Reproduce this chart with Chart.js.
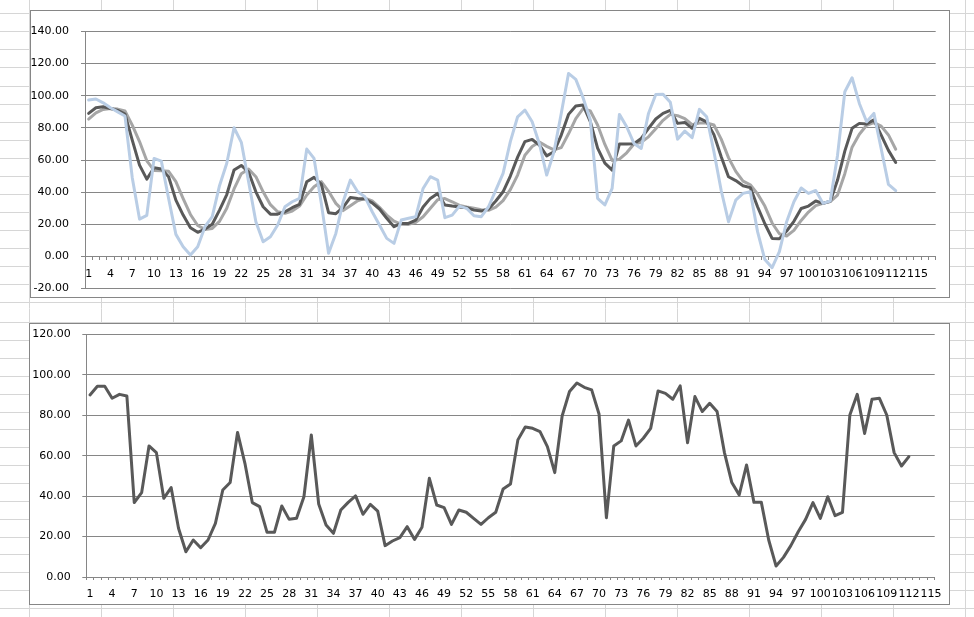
<!DOCTYPE html>
<html><head><meta charset="utf-8">
<script src="https://cdn.jsdelivr.net/npm/chart.js@4.4.0/dist/chart.umd.min.js"></script>
<style>
html,body{margin:0;padding:0;background:#fff;}
body{width:974px;height:617px;position:relative;overflow:hidden;}
#bg{position:absolute;left:0;top:0;}
.frame{position:absolute;box-sizing:border-box;border:1px solid #868686;background:#fff;}
#c1{position:absolute;left:30px;top:10px;}
#c2{position:absolute;left:29px;top:323px;}
</style></head><body>
<canvas id="bg" width="974" height="617"></canvas>
<div class="frame" style="left:30px;top:10px;width:920px;height:288px;"></div>
<div class="frame" style="left:29px;top:323px;width:921px;height:282px;"></div>
<canvas id="c1" width="920" height="288"></canvas>
<canvas id="c2" width="921" height="282"></canvas>
<script>
// ---- categories / tick labels ----
const topCategories = ['1','2','3','4','5','6','7','8','9','10','11','12','13','14','15','16','17','18','19','20','21','22','23','24','25','26','27','28','29','30','31','32','33','34','35','36','37','38','39','40','41','42','43','44','45','46','47','48','49','50','51','52','53','54','55','56','57','58','59','60','61','62','63','64','65','66','67','68','69','70','71','72','73','74','75','76','77','78','79','80','81','82','83','84','85','86','87','88','89','90','91','92','93','94','95','96','97','98','99','100','101','102','103','104','105','106','107','108','109','110','111','112','113','114','115','116','117'];
const bottomCategories = ['1','2','3','4','5','6','7','8','9','10','11','12','13','14','15','16','17','18','19','20','21','22','23','24','25','26','27','28','29','30','31','32','33','34','35','36','37','38','39','40','41','42','43','44','45','46','47','48','49','50','51','52','53','54','55','56','57','58','59','60','61','62','63','64','65','66','67','68','69','70','71','72','73','74','75','76','77','78','79','80','81','82','83','84','85','86','87','88','89','90','91','92','93','94','95','96','97','98','99','100','101','102','103','104','105','106','107','108','109','110','111','112','113','114','115'];
const topYTicks = [-20, 0, 20, 40, 60, 80, 100, 120, 140];
const bottomYTicks = [0, 20, 40, 60, 80, 100, 120];

// ---- series values ----
const darkSeries = [89,92.5,93.2,92.1,90.9,88.6,72.4,56.8,48.1,55.2,
 54.4,49.6,35,25.7,17.8,15,17,20,28.8,38.5,
 53.8,56.6,52.5,40.2,30.9,26.3,26.3,27.8,30.3,32.4,
 46.5,49.2,45,27.2,26.6,30.5,36.7,36.1,35.7,33.3,
 29.5,23.7,18.5,20.5,20.5,22.6,30.8,36.1,39.2,32,
 31.3,30.8,30.3,28.8,28.2,29.5,34.5,40.2,50,61.8,
 71.4,72.8,69.3,62.6,65.1,75.5,88.4,93.6,94.2,83.8,
 67.4,58,53.7,69.9,69.9,70.1,73.4,79.7,85.5,89,
 90.9,82.8,83.4,79.7,85.9,83.8,75.8,62,49.6,47.2,
 44,42.8,30.9,20.3,11.2,11,15.8,21.8,29.8,31.3,
 34.5,33,34.3,47.5,65.5,79.7,82.8,82.4,85,75.5,
 66,58.5];
const graySeries = [85.5,89.4,91.5,92.1,91.7,90.5,81.7,71.5,59.5,53.5,
 53.3,53,46.5,36,26.1,19.2,16.8,17.4,21.8,30,
 42,51.5,54.4,49.6,40.2,32.2,27.8,26.8,28.2,31.3,
 38.2,43.4,46.5,40.5,33,28.5,31.5,34.6,36.2,34.5,
 30.5,25.7,22,20,19.9,21.2,24.7,30,35.3,36,
 34,31.7,30.7,29.9,29,28.7,30.7,34.7,41.6,50.6,
 63,68.4,71.2,68.5,66.3,67.7,76.3,85.8,92,90.5,
 81.8,69.7,59.7,60.5,64.5,70,71.1,74.4,79.5,84.7,
 88.4,87.6,85.7,82,83,83,81.8,73,61.5,52.9,
 46.9,44.6,38.9,31.3,20.8,14.1,12.7,16.2,22.4,27.6,
 31.6,33,34.1,38.2,51.5,68,76,81.6,83.3,81.1,
 75.6,66.7];
const blueSeries = [97.3,98,95.6,92.5,90,87.4,49,23.2,25.5,61,
 59.3,36,13.7,6,0.8,6,18.5,24.7,44,58,
 80.1,71,46.5,21.6,9.1,12.2,19.5,30.9,34,36.1,
 66.8,61,33,1.9,14.3,34,47.5,40.2,37.1,27.8,
 19.5,11.2,8.1,22.6,23.7,24.7,42.3,49.6,47.5,24.1,
 25.7,31.3,29.9,25.3,24.7,30.9,41.3,51.7,71.4,86.9,
 91.1,83.8,70,50.6,65.1,89,113.9,110.2,98.8,84.9,
 36.1,32,42.3,88.4,80.7,70.3,67.2,89,100.8,101,
 95.9,73,78,73.9,91.5,86.9,65.1,41,21.6,35,
 39.2,40.2,15.4,-2,-7,2.9,21.6,34,42.6,39.2,
 41,33,34.5,63,102.5,111.2,95.2,83.8,89,67,
 44.8,40.9];
const actualSeries = [90.0,94.3,94.3,88.4,90.3,89.5,36.8,41.7,64.8,61.5,
 38.9,44.2,24.1,12.5,18.3,14.5,18.3,26.5,43.0,46.7,
 71.5,56.2,36.8,34.8,22.1,22.1,35.1,28.5,29.0,39.7,
 70.2,36.1,25.7,21.6,33.1,36.9,40.1,31.0,35.9,32.6,
 15.5,17.8,19.5,24.9,18.6,24.6,48.8,35.6,34.3,26.0,
 33.1,32.0,29.0,26.0,29.3,32.0,43.5,46.0,67.8,74.2,
 73.5,71.9,64.5,51.6,79.6,91.7,95.9,93.8,92.5,80.6,
 29.3,64.8,67.3,77.6,64.8,68.6,73.5,92.0,90.8,87.9,
 94.5,66.4,89.2,81.8,85.9,81.8,61.5,46.7,40.6,55.4,
 36.9,36.9,18.3,5.4,9.7,15.5,22.4,28.5,36.8,29.0,
 39.7,30.3,32.0,80.1,90.3,71.0,87.9,88.4,80.1,61.5,
 54.9,59.5];

// ---- spreadsheet background ----
(function(){
  const g = document.getElementById('bg').getContext('2d');
  g.strokeStyle = '#d6d6d6'; g.lineWidth = 1;
  g.beginPath();
  for (let x = 29; x < 974; x += 72) { g.moveTo(x + 0.5, 0); g.lineTo(x + 0.5, 617); }
  for (let k = 0; k <= 16; k++) { const y = Math.round(13.3 + 18.05 * k) + 0.5; g.moveTo(0, y); g.lineTo(974, y); }
  for (let k = 0; k <= 16; k++) { const y = Math.round(322.3 + 17.85 * k) + 0.5; g.moveTo(0, y); g.lineTo(974, y); }
  g.stroke();
})();

const FONT = {family: "'DejaVu Sans', sans-serif", size: 11};
const AXIS = '#868686';
function noPad(sc) { sc.paddingTop = 0; sc.paddingBottom = 0; sc.paddingLeft = 0; sc.paddingRight = 0; }
function xScale(cats, pos, fixH) {
  return {
    type: 'category', offset: true, position: pos,
    afterFit: sc => { if (fixH !== null) sc.height = fixH; noPad(sc); },
    grid: {display: true, drawOnChartArea: false, drawTicks: true, tickLength: 3, offset: true, color: AXIS},
    border: {display: true, color: AXIS, width: 1},
    ticks: {autoSkip: false, maxRotation: 0, minRotation: 0, padding: 8, color: '#000', font: FONT,
      callback: (v, i) => (i % 3 === 0 ? cats[i] : '')}
  };
}
function yScale(ticksArr, w, pad) {
  return {
    min: ticksArr[0], max: ticksArr[ticksArr.length - 1],
    afterFit: sc => { sc.width = w; noPad(sc); },
    afterBuildTicks: sc => { sc.ticks = ticksArr.map(v => ({value: v})); },
    ticks: {padding: pad, color: '#000', font: FONT, callback: v => Number(v).toFixed(2)},
    grid: {color: AXIS, tickLength: 4, drawTicks: true, lineWidth: 1},
    border: {display: true, color: AXIS, width: 1}
  };
}
const common = {
  responsive: false, animation: false, devicePixelRatio: 1,
  plugins: {legend: {display: false}, tooltip: {enabled: false}, title: {display: false}},
  elements: {point: {radius: 0, hoverRadius: 0}, line: {borderWidth: 3, tension: 0, borderJoinStyle: 'round', borderCapStyle: 'round'}}
};

new Chart(document.getElementById('c1'), {
  type: 'line',
  data: {labels: topCategories, datasets: [
    {label: 'Series3', data: blueSeries, borderColor: '#b9cde5', order: 0, fill: false},
    {label: 'Series1', data: darkSeries, borderColor: '#595959', order: 1, fill: false},
    {label: 'Series2', data: graySeries, borderColor: '#a6a6a6', order: 2, fill: false}
  ]},
  options: Object.assign({}, common, {
    layout: {autoPadding: false, padding: {left: 0, top: 21.5, right: 14.3, bottom: 9.5}},
    scales: {x: xScale(topCategories, {y: 0}, null), y: yScale(topYTicks, 55, 12)}
  })
});

new Chart(document.getElementById('c2'), {
  type: 'line',
  data: {labels: bottomCategories, datasets: [
    {label: 'Actual', data: actualSeries, borderColor: '#595959', fill: false}
  ]},
  options: Object.assign({}, common, {
    layout: {autoPadding: false, padding: {left: 0, top: 11.3, right: 15.3, bottom: 0}},
    scales: {x: xScale(bottomCategories, 'bottom', 28), y: yScale(bottomYTicks, 57.3, 11.6)}
  })
});
</script>
</body></html>
